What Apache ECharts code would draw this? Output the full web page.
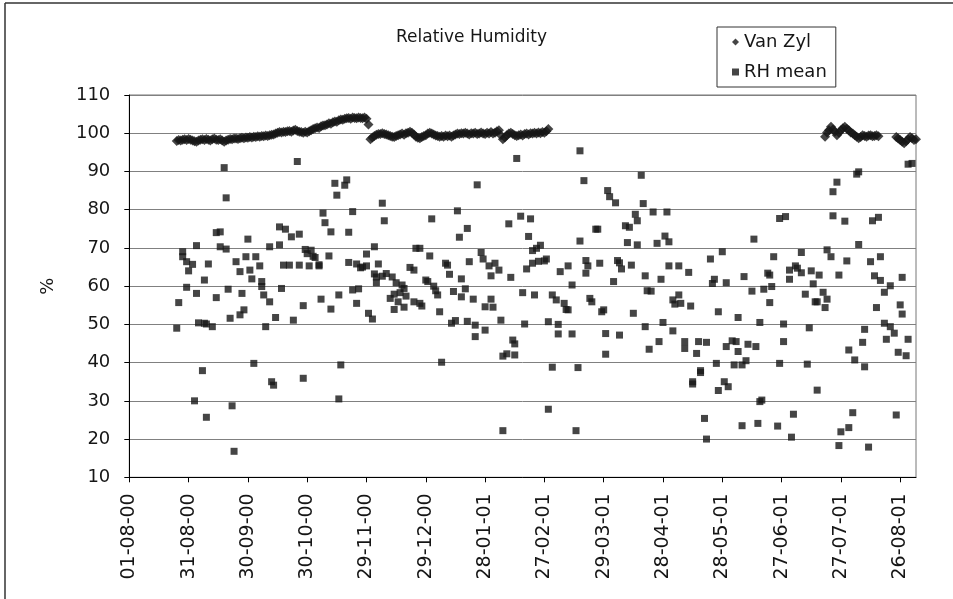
<!DOCTYPE html>
<html><head><meta charset="utf-8">
<script src="https://cdn.jsdelivr.net/npm/echarts@6/dist/echarts.min.js"></script>
<style>html,body{margin:0;padding:0;background:#fff}#c{width:953px;height:599px}</style>
</head><body><div id="c"></div>
<script>
// x values are days counted from 01-08-00
const tickLabels = ['01-08-00','31-08-00','30-09-00','30-10-00','29-11-00','29-12-00','28-01-01','27-02-01','29-03-01','28-04-01','28-05-01','27-06-01','27-07-01','26-08-01'];
const tickStep = 30;
const dayMax = 398;

// Van Zyl: consecutive daily readings, three runs
const vanZylStart1 = 24;
const vanZyl1 = [
98.0,98.2,98.1,98.3,98.4,98.2,98.5,98.3,98.1,97.9,
97.8,98.1,98.3,98.4,98.2,98.5,98.3,98.1,98.4,98.6,
98.3,98.2,98.4,98.1,97.8,98.1,98.3,98.5,98.4,98.6,
98.6,98.5,98.7,98.8,98.7,98.9,98.8,99.0,98.9,99.1,
99.0,99.2,99.1,99.3,99.2,99.4,99.3,99.5,99.6,99.7,
99.9,100.1,100.3,100.2,100.4,100.3,100.5,100.6,100.4,100.7,
100.9,100.6,100.4,100.3,100.1,100.4,100.2,100.5,100.8,101.1,
101.3,101.5,101.4,101.8,102.0,102.1,102.3,102.6,102.5,102.9,
103.1,103.0,103.4,103.6,103.5,103.8,103.9,104.0,103.8,104.1,
104.0,103.9,104.1,104.0,103.9,104.1,103.8,102.3,98.4,98.9,
99.3,99.6,99.8,99.8,100.0,99.8,99.7,99.5,99.3,99.1,
99.0,99.3,99.5,99.7,99.9,99.6,100.0,100.1,100.4,100.1,
99.7,99.1,98.8,98.7,99.0,99.3,99.5,99.9,100.1,99.9,
99.7,99.4,99.3,99.1,99.3,99.1,99.4,99.2,99.4,99.1,
99.4,99.7,99.9,99.8,100.0,99.9,100.1,99.9,99.7,100.0,
99.9,100.1,99.8,99.9,100.2,99.9,99.8,100.1,99.9,100.3,
99.9,100.1,100.5,100.8,99.5,98.4,98.9,99.5,99.9,100.1,
99.8,99.5,99.3,99.5,99.7,99.4,99.8,99.9,99.7,100.0,
99.9,100.1,99.9,100.2,100.0,100.3,100.1,100.5,101.1];
const vanZylStart2 = 352;
const vanZyl2 = [99.1,100.2,100.8,101.7,101.0,100.4,99.5,100.1,100.8,101.3,
101.7,101.2,100.8,100.2,99.9,99.5,99.1,98.7,99.0,99.5,
99.3,99.1,99.4,99.5,99.2,99.3,99.5,99.2];
const vanZylStart3 = 388;
const vanZyl3 = [99.0,98.6,98.2,97.8,97.4,97.9,98.4,99.0,98.7,98.2,98.4];

// RH mean
const rhDays1 = [24,25,27,27,29,29,30,32,33,34, 34,35,37,38,38,39,39,40,42,44, 44,46,46,48,49,49,50,51,52,53,
54,56,56,57,58,59,60,61,62,63, 64,66,67,67,68,69,71,71,72,73, 74,76,76,77,78,79,81,82,83,85,
86,86,88,88,89,90,91,92,93,94, 96,96,97,98,99,101,102,102,104,105, 106,106,107,109,110,111,111,113,113,115,
115,116,117,118,120,120,121,123,124,124, 125,125,126];
const rhValues1 = [49.0,55.7,69.0,67.7,59.7,66.4,64.0,65.7,30.0,70.6, 58.1,50.4,37.9,61.6,50.3,50.1,25.7,65.8,49.4,57.0,
74.0,74.2,70.3,91.0,83.1,69.7,59.2,51.6,28.7,16.8, 66.4,63.8,52.5,58.1,53.8,67.7,72.3,64.2,61.9,39.8,
67.7,65.3,61.2,59.9,57.7,49.4,70.3,55.9,35.0,34.1, 51.8,70.8,75.5,59.4,65.5,74.9,65.5,72.9,51.1,92.6,
73.6,65.5,54.9,35.9,69.6,68.5,65.3,69.4,67.8,67.5, 65.6,65.3,56.6,79.1,76.6,67.9,54.0,74.2,86.9,83.8,
57.7,30.5,39.4,86.4,87.8,74.1,66.2,79.5,59.0,55.5, 65.8,59.3,64.8,65.0,65.3,68.4,52.9,51.4,63.2,70.3,
60.9,62.4,65.8];
const rhDays2 = [128,128,129,130,132,133,134,134,135,136, 137,138,139,139,140,142,144,144,145,147,
147,148,150,151,152,153,154,155,156,157, 158,160,161,162,163,164,165,166,167,168,
168,170,171,171,172,174,175,175,176,178, 179,180,180,182,183,183,184,185,187,188,
189,189,191,192,193,194,195,195,196,198, 199,200,201,202,203,204,204,205,206,207,
208,210,211,212,212,214,214,216,217,217, 218,220,221,222,222,224,224,226,227,228,
228,230,231,231,232,233,234,236,237,238, 239,240,241,241,242,243,245,246,247,248,
248,249,251,252,253,254,255,256,257,257, 259,260,261,261,262,263];
const rhValues2 = [81.7,62.6,77.1,63.3,56.8,62.4,57.9,53.9,60.9,55.9, 58.3,60.3,59.4,54.5,57.4,64.9,64.2,55.9,69.9,55.5,
69.9,54.8,61.6,61.2,67.9,77.6,60.0,58.8,57.7,53.3, 40.1,66.0,65.5,63.1,50.3,58.6,51.0,79.7,72.8,57.2,
61.9,59.3,50.8,75.1,66.4,56.6,49.8,46.8,86.5,68.8, 67.1,54.6,48.5,65.3,62.7,56.6,54.5,66.0,64.2,51.1,
41.7,22.2,42.3,76.3,62.3,45.9,42.0,44.9,93.4,78.3, 58.3,50.1,64.5,73.0,77.6,69.3,66.0,57.7,69.9,66.5,
70.7,66.6,67.1,50.7,27.8,38.8,57.7,56.4,50.0,47.5, 63.8,55.5,53.9,53.8,65.3,60.3,47.5,22.2,38.7,71.8,
95.4,87.6,63.4,66.7,65.3,56.8,55.9,74.9,74.9,66.0, 53.3,53.8,47.6,42.2,85.0,83.4,61.2,81.8,66.7,66.1,
47.2,64.5,75.8,71.4,75.4,65.5,52.9,78.8,70.8,77.1, 89.0,81.6,62.7,49.4,58.8,43.5];
const rhDays3 = [264,265,267,268,269,270,271,272,273,273, 275,275,276,278,278,279,281,281,283,284,
285,285,287,288,289,289,291,292,292,294, 295,296,297,298,298,300,301,302,302,303,
305,306,307,308,308,310,310,311,312,313, 315,316,317,318,319,319,320,321,323,324,
324,325,326,328,329,329,331,331,332,334, 334,335,336,337,338,340,340,342,343,344,
345,346,347,348,348,349,351,352,353,353, 355,356,356,358,359,359,360,362,363,364,
364,366,367,368,369,369,371,372,372,374, 375,376,377,378,379,380,380,382,382,383,
385,385,387,388,389,390,391,391,393,394, 394,396];
const rhValues3 = [58.7,79.4,71.2,45.5,61.8,50.5,73.1,79.4,71.6,65.3, 48.3,56.4,55.3,65.3,57.7,55.5,43.7,45.5,63.6,54.8,
34.4,35.0,42.4,45.5,37.9,37.4,25.4,20.0,45.3,67.1, 60.7,61.8,39.8,32.7,53.3,69.0,35.0,44.2,60.9,33.7,
45.7,39.4,45.5,42.9,51.8,23.5,39.4,62.5,40.5,44.8, 58.7,72.3,44.2,24.1,50.5,29.8,30.2,59.2,63.4,62.9,
55.7,59.9,67.7,23.4,39.8,77.7,45.5,50.1,78.2,64.2, 61.8,20.5,26.5,65.3,64.7,68.8,63.5,57.9,39.6,49.1,
64.0,60.6,55.9,55.9,32.8,62.9,58.4,54.4,56.6,69.5, 67.7,78.4,84.7,87.2,62.9,18.3,21.9,77.0,66.6,43.3,
23.0,26.9,40.7,89.3,89.9,70.9,45.3,48.7,38.9,17.9, 66.4,77.1,62.7,54.4,78.0,67.7,61.5,50.3,58.4,46.1,
60.1,49.4,47.7,26.3,42.7,55.1,52.7,62.3,41.8,46.1, 91.9,92.1];

function run(start, vals){ return vals.map((v,i)=>[start+i, v]); }
function pairs(days, vals){ return days.map((d,i)=>[d, vals[i]]); }
const vanZylData = run(vanZylStart1, vanZyl1).concat(run(vanZylStart2, vanZyl2), run(vanZylStart3, vanZyl3));
const rhData = pairs(rhDays1, rhValues1).concat(pairs(rhDays2, rhValues2), pairs(rhDays3, rhValues3));
const tickDays = tickLabels.map((_, i) => i * tickStep);

const F = 'DejaVu Sans';
const ink = '#161616';
const chart = echarts.init(document.getElementById('c'), null, {renderer: 'canvas'});
chart.setOption({
  animation: false,
  backgroundColor: '#fff',
  title: {text: 'Relative Humidity', left: 396, top: 29, padding: 0,
    textStyle: {fontFamily: F, fontSize: 17, fontWeight: 'normal', color: ink}},
  legend: {orient: 'vertical', left: 717, top: 27, padding: [6, 9, 6, 15], itemGap: 12,
    itemWidth: 7, itemHeight: 7, borderColor: '#333', borderWidth: 1,
    textStyle: {fontFamily: F, fontSize: 18, color: ink},
    data: [{name: 'Van Zyl', icon: 'diamond'}, {name: 'RH mean', icon: 'rect'}]},
  grid: {left: 129.3, right: 37, top: 95, bottom: 121.7, show: true, borderColor: '#777', borderWidth: 1},
  xAxis: {type: 'value', min: 0, max: dayMax,
    axisLine: {lineStyle: {color: '#000', width: 1}},
    axisTick: {customValues: tickDays, length: 5, lineStyle: {color: '#000'}},
    axisLabel: {customValues: tickDays, rotate: 90, margin: 16,
      formatter: v => tickLabels[Math.round(v / tickStep)],
      fontFamily: F, fontSize: 19, color: ink},
    splitLine: {show: false}},
  yAxis: {type: 'value', min: 10, max: 110, interval: 10,
    name: '%', nameLocation: 'middle', nameGap: 72, nameRotate: 90,
    nameTextStyle: {fontFamily: F, fontSize: 18, color: ink},
    axisLine: {show: true, lineStyle: {color: '#000', width: 1}},
    axisTick: {show: true, length: 5, lineStyle: {color: '#000'}},
    axisLabel: {margin: 19, fontFamily: F, fontSize: 18, color: ink},
    splitLine: {lineStyle: {color: '#808080', width: 1}}},
  graphic: [
    {type: 'line', shape: {x1: 5, y1: 3, x2: 5, y2: 599}, style: {stroke: '#333', lineWidth: 1.5}},
    {type: 'line', shape: {x1: 5, y1: 3, x2: 953, y2: 3}, style: {stroke: '#333', lineWidth: 1.5}}
  ],
  series: [
    {name: 'Van Zyl', type: 'scatter', symbol: 'diamond', symbolSize: 10,
      itemStyle: {color: ink}, data: vanZylData},
    {name: 'RH mean', type: 'scatter', symbol: 'rect', symbolSize: 7,
      itemStyle: {color: ink}, data: rhData}
  ]
});
</script></body></html>
